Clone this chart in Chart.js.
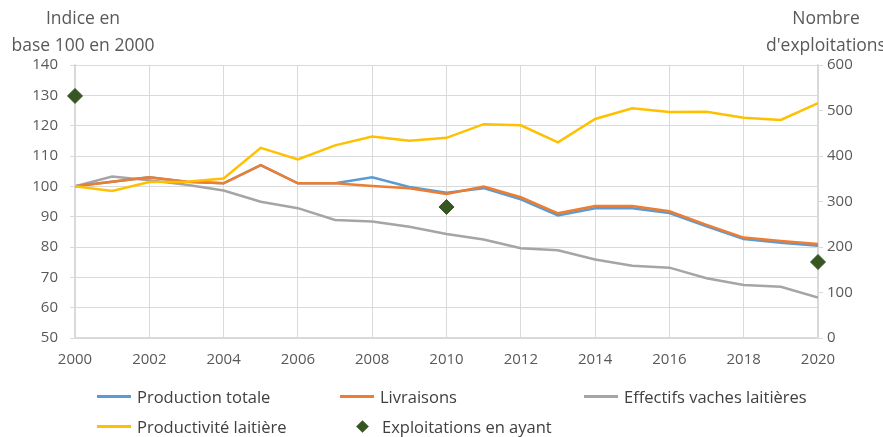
<!DOCTYPE html>
<html lang="fr">
<head>
<meta charset="UTF-8">
<title>Lait</title>
<script src="https://cdn.jsdelivr.net/npm/chart.js"></script>
<style>
  body { margin: 0; background: #fff; font-family: "Open Sans", sans-serif; color: #595959; }
  #wrap { position: relative; width: 883px; height: 437px; }
  canvas { position: absolute; left: 0; top: 0; }
  .title { position: absolute; font-size: 17.5px; line-height: 27px; text-align: center; color: #595959; white-space: nowrap; }
  .leg { position: absolute; font-size: 16.5px; color: #404040; display: flex; align-items: center; white-space: nowrap; }
  .leg i { display: inline-block; width: 34px; height: 3px; margin-right: 6px; }
  .leg b { display: inline-block; width: 9px; height: 9px; background: #375623; transform: rotate(45deg); margin: 0 15px 0 6px; }
</style>
</head>
<body>
<div id="wrap">
  <canvas id="c" width="883" height="437"></canvas>
  <div class="title" style="left:3px; top:4px; width:160px;">Indice en<br>base 100 en 2000</div>
  <div class="title" style="left:766px; top:4px; width:120px;">Nombre<br>d'exploitations</div>
  <div class="leg" style="left:97px; top:385px;"><i style="background:#5b9bd5"></i>Production totale</div>
  <div class="leg" style="left:340px; top:385px;"><i style="background:#ed7d31"></i>Livraisons</div>
  <div class="leg" style="left:584px; top:385px;"><i style="background:#a5a5a5"></i>Effectifs vaches laitières</div>
  <div class="leg" style="left:97px; top:415px;"><i style="background:#ffc000"></i>Productivité laitière</div>
  <div class="leg" style="left:352px; top:415px;"><b></b>Exploitations en ayant</div>
</div>
<script>
// années 2000 à 2020
const years = [2000, 2001, 2002, 2003, 2004, 2005, 2006, 2007, 2008, 2009, 2010,
               2011, 2012, 2013, 2014, 2015, 2016, 2017, 2018, 2019, 2020];
const production = [100, 101.5, 103, 101.5, 101, 107, 101, 101, 103, 99.8, 97.9,
                    99.4, 95.7, 90.4, 92.8, 92.8, 91.2, 86.8, 82.6, 81.4, 80.4];
const livraisons = [100, 101.5, 103, 101.5, 101, 107, 101, 101, 100.1, 99.4, 97.5,
                    99.9, 96.4, 91.1, 93.5, 93.5, 91.8, 87.3, 83.1, 82.0, 81.0];
const effectifs = [100, 103.2, 102, 100.5, 98.6, 94.9, 92.8, 88.9, 88.4, 86.7, 84.3,
                   82.5, 79.6, 78.9, 75.9, 73.8, 73.2, 69.7, 67.5, 66.9, 63.3];
const productivite = [100, 98.5, 101.4, 101.5, 102.6, 112.7, 108.9, 113.5, 116.4, 115, 116,
                      120.5, 120.1, 114.5, 122.2, 125.7, 124.5, 124.6, 122.6, 121.9, 127.4];
const exploitYears = [2000, 2010, 2020];
const exploitations = [532, 288, 167];

const pts = (arr) => arr.map((v, i) => ({ x: years[i], y: v }));
const tickFont = { family: 'Open Sans', size: 15 };
const grid = '#d9d9d9';

function line(label, data, color) {
  return { type: 'line', label, data: pts(data), borderColor: color, backgroundColor: color,
           borderWidth: 2.5, pointRadius: 0, tension: 0, yAxisID: 'y' };
}

new Chart(document.getElementById('c'), {
  data: {
    datasets: [
      { type: 'scatter', label: 'Exploitations en ayant',
        data: exploitations.map((v, i) => ({ x: exploitYears[i], y: v })),
        pointStyle: 'rectRot', pointRadius: 7.5, backgroundColor: '#375623', borderColor: '#375623',
        yAxisID: 'y1', order: 0, clip: false },
      Object.assign(line('Productivité laitière', productivite, '#ffc000'), { order: 1 }),
      Object.assign(line('Livraisons', livraisons, '#ed7d31'), { order: 2 }),
      Object.assign(line('Production totale', production, '#5b9bd5'), { order: 3 }),
      Object.assign(line('Effectifs vaches laitières', effectifs, '#a5a5a5'), { order: 4 })
    ]
  },
  options: {
    responsive: false,
    animation: false,
    layout: { padding: { top: 65, left: 0, right: 0, bottom: 0 } },
    plugins: { legend: { display: false }, tooltip: { enabled: false } },
    scales: {
      x: {
        type: 'linear', min: 2000, max: 2020,
        ticks: { stepSize: 2, color: '#595959', font: tickFont, padding: 13, callback: v => String(v) },
        grid: { color: grid, lineWidth: 1, tickLength: 0 },
        border: { color: grid, width: 1.5 },
        afterFit: s => { s.height = 99; }
      },
      y: {
        position: 'left', min: 50, max: 140,
        ticks: { stepSize: 10, color: '#595959', font: tickFont, padding: 12 },
        grid: { color: grid, lineWidth: 1, tickLength: 5 },
        border: { color: grid, width: 1.5 },
        afterFit: s => { s.width = 75; }
      },
      y1: {
        position: 'right', min: 0, max: 600,
        ticks: { stepSize: 100, color: '#595959', font: tickFont, padding: 4 },
        grid: { drawOnChartArea: false, color: grid, tickLength: 5 },
        border: { color: grid, width: 1.5 },
        afterFit: s => { s.width = 65; }
      }
    }
  }
});
</script>
</body>
</html>
